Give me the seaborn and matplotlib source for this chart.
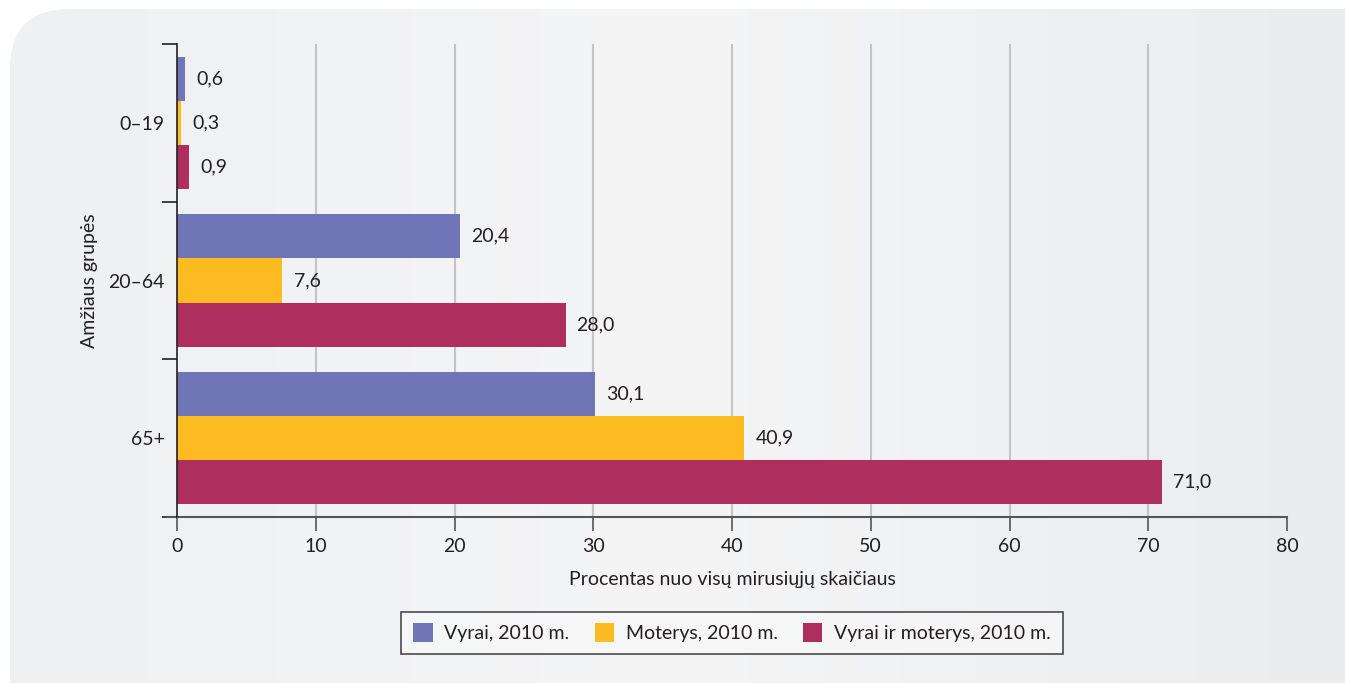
import matplotlib
matplotlib.use("Agg")
import matplotlib.pyplot as plt
from matplotlib.patches import FancyBboxPatch
from matplotlib.lines import Line2D
import numpy as np
import pandas as pd
import seaborn as sns

# Data: share of all deaths by age group (%)
age_groups = ["0–19", "20–64", "65+"]
series_names = ["Vyrai, 2010 m.", "Moterys, 2010 m.", "Vyrai ir moterys, 2010 m."]
men = [0.6, 20.4, 30.1]
women = [0.3, 7.6, 40.9]
both = [0.9, 28.0, 71.0]
x_ticks = [0, 10, 20, 30, 40, 50, 60, 70, 80]

colors = ["#7075b8", "#fbbb21", "#ae2f5e"]

df = pd.DataFrame({
    "group": age_groups * 3,
    "series": [series_names[0]] * 3 + [series_names[1]] * 3 + [series_names[2]] * 3,
    "value": men + women + both,
})

sns.set_theme(style="white")
plt.rcParams["font.family"] = ["Lato", "DejaVu Sans"]
text_color = "#231f20"
fs = 14

fig = plt.figure(figsize=(13.45, 6.83), dpi=100)
fig.patch.set_facecolor("white")

# Rounded light-grey panel behind the chart
bg = fig.add_axes([0, 0, 1, 1], zorder=-10)
bg.set_xlim(0, 1345)
bg.set_ylim(683, 0)
bg.axis("off")
grad = np.linspace(0, 1, 256)[None, :]
img = bg.imshow(
    grad, cmap=matplotlib.colors.LinearSegmentedColormap.from_list(
        "bgc", ["#eef0f2", "#f5f5f6", "#eaeced"]),
    extent=[10, 1345, 683, 9], aspect="auto")
panel = FancyBboxPatch((10 + 60, 9 + 60), 1345 - 10 - 60 + 200, 683 - 9 - 60 + 200,
                       boxstyle="round,pad=60,rounding_size=60",
                       transform=bg.transData, facecolor="none", edgecolor="none")
bg.add_patch(panel)
img.set_clip_path(panel)

ax = fig.add_axes([177 / 1345, 1 - 517 / 683, (1287 - 177) / 1345, (517 - 44) / 683])
ax.set_facecolor("none")

sns.barplot(data=df, y="group", x="value", hue="series", hue_order=series_names,
            order=age_groups, palette=colors, orient="h", width=0.84,
            saturation=1, ax=ax, zorder=3, legend=True, linewidth=0)

ax.set_xlim(0, 80)
ax.set_ylim(2.5, -0.5)
ax.set_xticks(x_ticks)
ax.set_xticklabels([str(t) for t in x_ticks], fontsize=fs, color=text_color)

# Vertical grid lines
for t in x_ticks[1:-1]:
    ax.axvline(t, color="#c4c4c4", lw=1.5, zorder=1)

# Category labels without ticks; boundary ticks as minor ticks
ax.set_yticks(range(len(age_groups)))
ax.set_yticklabels(age_groups, fontsize=fs, color=text_color)
ax.tick_params(axis="y", which="major", length=0, pad=9)
ax.set_yticks([-0.5, 0.5, 1.5, 2.5], minor=True)
ax.tick_params(axis="y", which="minor", length=11, width=1.2, color="#231f20", left=True)
ax.tick_params(axis="x", which="major", length=10, width=1.2, color="#555555",
               bottom=True, pad=5)

for side in ["top", "right"]:
    ax.spines[side].set_visible(False)
ax.spines["left"].set_color("#231f20")
ax.spines["left"].set_linewidth(1.2)
ax.spines["left"].set_zorder(5)
ax.spines["bottom"].set_color("#555555")
ax.spines["bottom"].set_linewidth(1.5)
# short extension of the x axis line to the left of zero
ax.add_line(Line2D([-0.009, 0], [0, 0], transform=ax.transAxes, color="#555555",
                   lw=1.5, clip_on=False))

# Value labels with comma decimal separator
for cont in ax.containers:
    vals = [b.get_width() for b in cont]
    ax.bar_label(cont, labels=[f"{v:.1f}".replace(".", ",") for v in vals],
                 padding=8, fontsize=fs, color=text_color)

ax.set_xlabel("Procentas nuo visų mirusiųjų skaičiaus", fontsize=fs,
              color=text_color, labelpad=12)
ax.set_ylabel("Amžiaus grupės", fontsize=fs, color=text_color, labelpad=7)

handles, labels = ax.get_legend_handles_labels()
ax.legend_.remove()
leg = ax.legend(handles, labels, loc="center", bbox_to_anchor=(0.5, -0.245), ncol=3,
                frameon=True, fancybox=False, fontsize=fs, handlelength=1.0,
                handleheight=1.1, handletextpad=0.6, columnspacing=1.3,
                borderpad=0.6, borderaxespad=0)
leg.get_frame().set_edgecolor("#231f20")
leg.get_frame().set_linewidth(1.2)
leg.get_frame().set_facecolor("#f7f7f7")
for t in leg.get_texts():
    t.set_color(text_color)

fig.savefig("out.png", dpi=100)
